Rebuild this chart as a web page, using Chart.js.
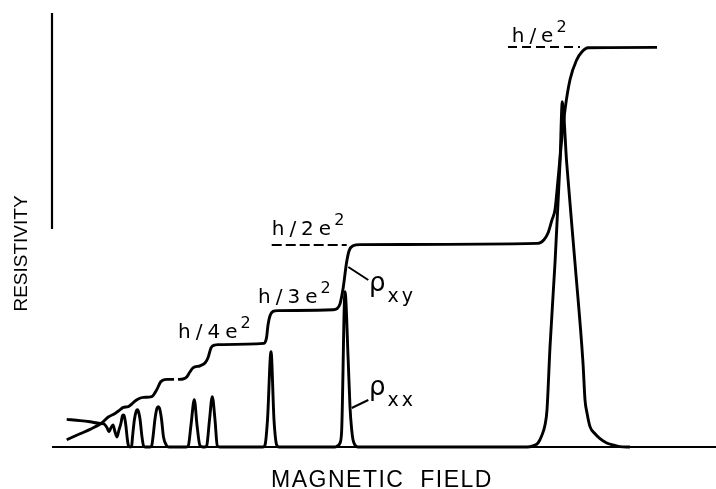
<!DOCTYPE html>
<html>
<head>
<meta charset="utf-8">
<script src="https://cdn.jsdelivr.net/npm/chart.js@4"></script>
<style>
  html, body { margin: 0; padding: 0; background: #fff; }
</style>
</head>
<body>
<canvas id="qhe" width="716" height="489"></canvas>
<script>
// field in arbitrary units, resistivity in units of h/e^2

// rho_xx (longitudinal)
const xxField = [14.7, 28, 38, 48, 52, 55, 57, 59, 61, 63, 65, 67, 69, 70.3, 71.3, 72.3, 73.8, 75.3, 76.5, 78,
  79.7, 80.5, 82.5, 84.3, 85.3, 86.3, 88, 90, 91.5, 93, 98, 99.7, 101, 103, 105, 106.3, 107.5, 109.5, 111.5, 114.7,
  117, 134, 136.3, 139, 142.3, 145, 148, 151, 153, 154.7, 157.5, 160.3, 163, 165.3, 168, 211, 213, 215.5, 219, 222,
  224.7, 227, 283, 285.5, 288, 289.7, 293, 296.3, 298, 299.7, 301, 303, 306, 475, 481, 486, 489.7, 493, 495, 498,
  503, 508, 510.3, 514.7, 523, 531, 533, 535, 538, 543, 548, 554.7, 561, 568, 578];
const xxRho = [0.069, 0.066, 0.063, 0.059, 0.058, 0.048, 0.038, 0.048, 0.055, 0.038, 0.025, 0.043, 0.06, 0.077, 0.08, 0.077, 0.055, 0.02, 0.003, 0,
  0.003, 0.025, 0.07, 0.09, 0.093, 0.09, 0.07, 0.025, 0.003, 0, 0, 0.003, 0.025, 0.07, 0.097, 0.101, 0.097, 0.07, 0.025, 0.003,
  0, 0, 0.003, 0.055, 0.118, 0.055, 0.003, 0, 0, 0.003, 0.068, 0.126, 0.068, 0.003, 0, 0, 0.005, 0.068, 0.238, 0.068,
  0.005, 0, 0, 0.003, 0.01, 0.043, 0.388, 0.21, 0.1, 0.043, 0.018, 0.005, 0, 0, 0.003, 0.01, 0.028, 0.055, 0.093, 0.25,
  0.46, 0.71, 0.863, 0.71, 0.46, 0.21, 0.118, 0.085, 0.051, 0.033, 0.021, 0.01, 0.005, 0.001, 0];

// rho_xy (Hall)
const xyField = [14.7, 28, 38, 49.7, 56.3, 63, 68, 71.3, 76.3, 81.3, 85.3, 91.3, 99.7, 104.7, 108.7, 114.7, 122, 124, 126,
  131, 134.7, 138, 141, 148, 153, 156, 159, 163, 166, 212, 214.5, 216, 218, 221, 226, 281, 285, 288, 291,
  294.5, 297, 301, 308, 486, 492, 496, 500, 503, 506, 509.7, 513, 518, 524.7, 530, 536, 605];
const xyRho = [0.018, 0.033, 0.044, 0.06, 0.075, 0.084, 0.093, 0.099, 0.101, 0.111, 0.119, 0.124, 0.126, 0.143, 0.163, 0.169, 0.169, null, 0.169,
  0.17, 0.175, 0.188, 0.198, 0.203, 0.21, 0.223, 0.248, 0.255, 0.256, 0.259, 0.273, 0.305, 0.328, 0.339, 0.341, 0.343, 0.346, 0.358, 0.395,
  0.46, 0.49, 0.503, 0.506, 0.509, 0.518, 0.535, 0.568, 0.593, 0.668, 0.768, 0.843, 0.918, 0.968, 0.988, 0.998, 0.999];

// quantised reference levels (dashed)
const hDashField = [456, 528];
const hDashRho = [1.0, 1.0];
const h2DashField = [219.7, 294.7];
const h2DashRho = [0.505, 0.505];

// axes drawn as in the figure
const baseField = [0, 664];
const baseRho = [0, 0];
const ordField = [0, 0];
const ordRho = [0.545, 1.085];

// leader lines for the curve names
const xyLeadField = [296.3, 316.3];
const xyLeadRho = [0.45, 0.4175];
const xxLeadField = [299.7, 316.3];
const xxLeadRho = [0.0975, 0.1175];

// plateau labels: text, superscript, anchor (field, rho)
const plateauText = ['h/e', 'h/2e', 'h/3e', 'h/4e'];
const plateauSup = ['2', '2', '2', '2'];
const plateauField = [459.7, 219.7, 206, 126];
const plateauRho = [1.013, 0.53, 0.359, 0.272];

const curveSub = ['xy', 'xx'];
const curveField = [318, 318];
const curveRho = [0.39, 0.13];

function pts(xs, ys) {
  return xs.map((x, i) => ({ x, y: ys[i] }));
}

function line(data, opts) {
  return Object.assign({
    data, borderColor: '#000', borderWidth: 2.9, pointRadius: 0,
    fill: false, tension: 0, spanGaps: false
  }, opts || {});
}

const textPlugin = {
  id: 'figText',
  afterDatasetsDraw(chart) {
    const ctx = chart.ctx;
    const sx = chart.scales.x, sy = chart.scales.y;
    ctx.save();
    ctx.fillStyle = '#000';
    ctx.textBaseline = 'alphabetic';
    ctx.textAlign = 'left';

    plateauText.forEach((t, i) => {
      const px = sx.getPixelForValue(plateauField[i]);
      const py = sy.getPixelForValue(plateauRho[i]);
      ctx.font = '20px "DejaVu Sans"';
      ctx.letterSpacing = '5px';
      ctx.fillText(t, px, py);
      const w = ctx.measureText(t).width;
      ctx.font = '16px "DejaVu Sans"';
      ctx.letterSpacing = '0px';
      ctx.fillText(plateauSup[i], px + w - 2, py - 10);
    });

    curveSub.forEach((s, i) => {
      const px = sx.getPixelForValue(curveField[i]);
      const py = sy.getPixelForValue(curveRho[i]);
      ctx.font = '26px "DejaVu Sans"';
      ctx.letterSpacing = '0px';
      ctx.fillText('\u03C1', px - 1, py);
      const w = ctx.measureText('\u03C1').width;
      ctx.font = '19px "DejaVu Sans"';
      ctx.letterSpacing = '3px';
      ctx.fillText(s, px + w + 1, py + 11);
    });

    // axis titles
    ctx.font = '23px "Liberation Sans"';
    ctx.letterSpacing = '1.5px';
    ctx.textAlign = 'center';
    ctx.fillText('MAGNETIC  FIELD', 382, 487);

    ctx.font = '19px "Liberation Sans"';
    ctx.letterSpacing = '0px';
    ctx.translate(27, 253.5);
    ctx.rotate(-Math.PI / 2);
    ctx.fillText('RESISTIVITY', 0, 0);
    ctx.restore();
  }
};

new Chart(document.getElementById('qhe'), {
  type: 'line',
  data: {
    datasets: [
      line(pts(baseField, baseRho), { borderWidth: 2.2 }),
      line(pts(ordField, ordRho), { borderWidth: 2.2 }),
      line(pts(hDashField, hDashRho), { borderWidth: 2, borderDash: [9, 5] }),
      line(pts(h2DashField, h2DashRho), { borderWidth: 2, borderDash: [10, 4] }),
      line(pts(xxLeadField, xxLeadRho), { borderWidth: 2 }),
      line(pts(xyLeadField, xyLeadRho), { borderWidth: 2 }),
      line(pts(xxField, xxRho), { cubicInterpolationMode: 'monotone' }),
      line(pts(xyField, xyRho), { cubicInterpolationMode: 'monotone' })
    ]
  },
  options: {
    responsive: false,
    animation: false,
    devicePixelRatio: 1,
    layout: { padding: 0 },
    plugins: { legend: { display: false }, tooltip: { enabled: false } },
    scales: {
      x: { type: 'linear', min: -52, max: 664, display: false },
      y: { type: 'linear', min: -0.105, max: 1.1175, display: false }
    }
  },
  plugins: [textPlugin]
});
</script>
</body>
</html>
